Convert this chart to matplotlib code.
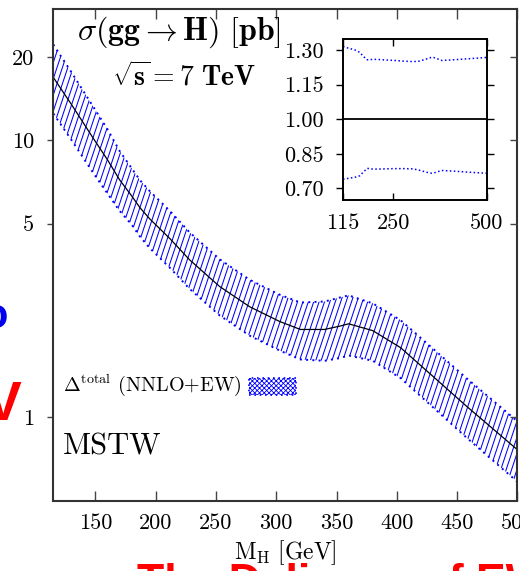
import numpy as np
import matplotlib
matplotlib.use("Agg")
import matplotlib.pyplot as plt
from matplotlib.collections import LineCollection
from matplotlib.patches import Rectangle
from matplotlib.ticker import NullLocator

plt.rcParams["font.family"] = ["cmr10", "DejaVu Serif"]
plt.rcParams["mathtext.fontset"] = "cm"
plt.rcParams["axes.formatter.use_mathtext"] = True
plt.rcParams["hatch.color"] = "#0000ff"
plt.rcParams["hatch.linewidth"] = 0.6

# Higgs mass grid [GeV]
mass = [115, 130, 148, 160, 170, 180, 187, 195, 212, 228, 253, 278, 303,
        320, 340, 353, 360, 380, 403, 430, 458, 500]
# central gg -> H cross section [pb]
sigma = [16.9, 13.5, 10.2, 8.5, 7.2, 6.3, 5.7, 5.2, 4.4, 3.7, 2.96, 2.5,
         2.21, 2.07, 2.07, 2.13, 2.17, 2.05, 1.78, 1.40, 1.09, 0.76]
# total uncertainty band, as ratio to the central value
ratio_up = [1.315, 1.308, 1.300, 1.290, 1.272, 1.258, 1.258, 1.260, 1.259,
            1.257, 1.255, 1.252, 1.250, 1.252, 1.262, 1.269, 1.267, 1.255,
            1.257, 1.260, 1.263, 1.268]
ratio_dn = [0.740, 0.744, 0.749, 0.755, 0.772, 0.787, 0.786, 0.784, 0.784,
            0.785, 0.786, 0.786, 0.785, 0.779, 0.770, 0.766, 0.768, 0.778,
            0.776, 0.773, 0.770, 0.766]

xticks = [150, 200, 250, 300, 350, 400, 450, 500]
xticklabels = ["150", "200", "250", "300", "350", "400", "450", "500"]
yticks = [1, 5, 10, 20]
yticklabels = ["1", "5", "10", "20"]
inset_xticks = [115, 250, 500]
inset_xticklabels = ["115", "250", "500"]
inset_yticks = [0.70, 0.85, 1.00, 1.15, 1.30]
inset_yticklabels = ["0.70", "0.85", "1.00", "1.15", "1.30"]

m = np.array(mass, float)
s = np.array(sigma)
up = s * np.array(ratio_up)
dn = s * np.array(ratio_dn)

W, H = 520, 571
fig = plt.figure(figsize=(W / 100, H / 100), dpi=100)
ax = fig.add_axes([53.3 / W, 1 - 500.5 / H, (517.4 - 53.3) / W, (500.5 - 9.3) / H])
ax.set_yscale("log")
ax.set_xlim(115, 500)
ax.set_ylim(0.498, 29.8)

blue = "#0000ff"
dots = (0, (1, 2.2))

# band outline (dotted) and steep hatching clipped to the band
band = ax.fill_between(m, dn, up, facecolor="none", edgecolor="none")
ax.plot(m, up, color=blue, lw=1.4, ls=dots)
ax.plot(m, dn, color=blue, lw=1.4, ls=dots)

ax_w = (517.4 - 53.3)
ax_h = (500.5 - 9.3)
spacing = 5.4 / ax_w
slope = 3.0 * ax_w / ax_h
starts = np.arange(-1.0 / slope - 0.02, 1.02, spacing)
segs = [[(x0, 0.0), (x0 + 1.0 / slope, 1.0)] for x0 in starts]
hatch = LineCollection(segs, colors=blue, linewidths=0.75, transform=ax.transAxes)
hatch.set_clip_path(band.get_paths()[0], transform=ax.transData)
ax.add_collection(hatch)

ax.plot(m, s, color="black", lw=0.9)

ax.set_xticks(xticks)
ax.set_xticklabels(xticklabels)
ax.set_yticks(yticks)
ax.set_yticklabels(yticklabels)
ax.yaxis.set_minor_locator(NullLocator())
ax.xaxis.set_minor_locator(NullLocator())
ax.tick_params(axis="x", which="major", direction="in", top=True, length=7,
               width=1.0, labelsize=16, pad=9, color="#444444")
ax.tick_params(axis="y", which="major", direction="out", length=4, width=1.0,
               labelsize=16, pad=10, color="#444444")
for side in ["left", "right", "top", "bottom"]:
    ax.spines[side].set_linewidth(1.5)
    ax.spines[side].set_color("#333333")

# inward ticks on the right edge
axr = ax.twinx()
axr.set_yscale("log")
axr.set_ylim(ax.get_ylim())
axr.set_yticks(yticks)
axr.set_yticklabels([])
axr.yaxis.set_minor_locator(NullLocator())
axr.tick_params(axis="y", direction="in", length=5, width=1.0, color="#444444")
for sp in axr.spines.values():
    sp.set_visible(False)

ax.set_xlabel(r"$\mathrm{M_H}\ [\mathrm{GeV}]$", fontsize=17, labelpad=4)

ax.text(0.05, 0.954, r"$\sigma(\mathbf{gg}\rightarrow\mathbf{H})\ [\mathbf{pb}]$",
        transform=ax.transAxes, fontsize=23, va="center", ha="left")
ax.text(0.127, 0.862, r"$\sqrt{\mathbf{s}}=\mathbf{7\ TeV}$",
        transform=ax.transAxes, fontsize=20, va="center", ha="left")
ax.text(0.02, 0.235, r"$\mathbf{\Delta}^{\rm total}$ (NNLO+EW)",
        transform=ax.transAxes, fontsize=14.5, va="center", ha="left")
ax.add_patch(Rectangle(((249 - 53.3) / ax_w, (500.5 - 395) / ax_h),
                       47 / ax_w, 17 / ax_h, transform=ax.transAxes,
                       facecolor="none", edgecolor=blue, lw=1.2, ls=dots,
                       hatch="xxxxxxx"))
ax.text(0.02, 0.11, "MSTW", transform=ax.transAxes, fontsize=22,
        va="center", ha="left")

# ratio inset
ins = fig.add_axes([343 / W, 1 - 200 / H, 143.5 / W, 161 / H])
ins.set_xlim(115, 500)
ins.set_ylim(0.650, 1.348)
ins.axhline(1.0, color="black", lw=1.3)
ins.plot(m, ratio_up, color=blue, lw=1.1, ls=(0, (1, 1.6)))
ins.plot(m, ratio_dn, color=blue, lw=1.1, ls=(0, (1, 1.6)))
ins.set_xticks(inset_xticks)
ins.set_xticklabels(inset_xticklabels)
ins.set_yticks(inset_yticks)
ins.set_yticklabels(inset_yticklabels)
ins.tick_params(axis="x", direction="in", top=True, length=5, width=1.0,
                labelsize=16, pad=10)
ins.tick_params(axis="y", direction="out", right=True, length=5, width=1.0,
                labelsize=16, pad=9)
for sp in ins.spines.values():
    sp.set_linewidth(1.4)

# surrounding slide text fragments
fig.text(8 / W, 1 - 317 / H, "o", color="#0000ee", fontsize=30,
         fontweight="bold", family="Liberation Sans", ha="right", va="center")
fig.text(22 / W, 1 - 405 / H, "7 TeV", color="#ff0000", fontsize=40,
         fontweight="bold", family="Liberation Sans", ha="right", va="center")
fig.text(137 / W, 1 - 563 / H, "The Delicacy of EW", color="#ff0000",
         fontsize=32, fontweight="bold", family="Liberation Sans",
         ha="left", va="top")

fig.savefig("out.png", dpi=100)
